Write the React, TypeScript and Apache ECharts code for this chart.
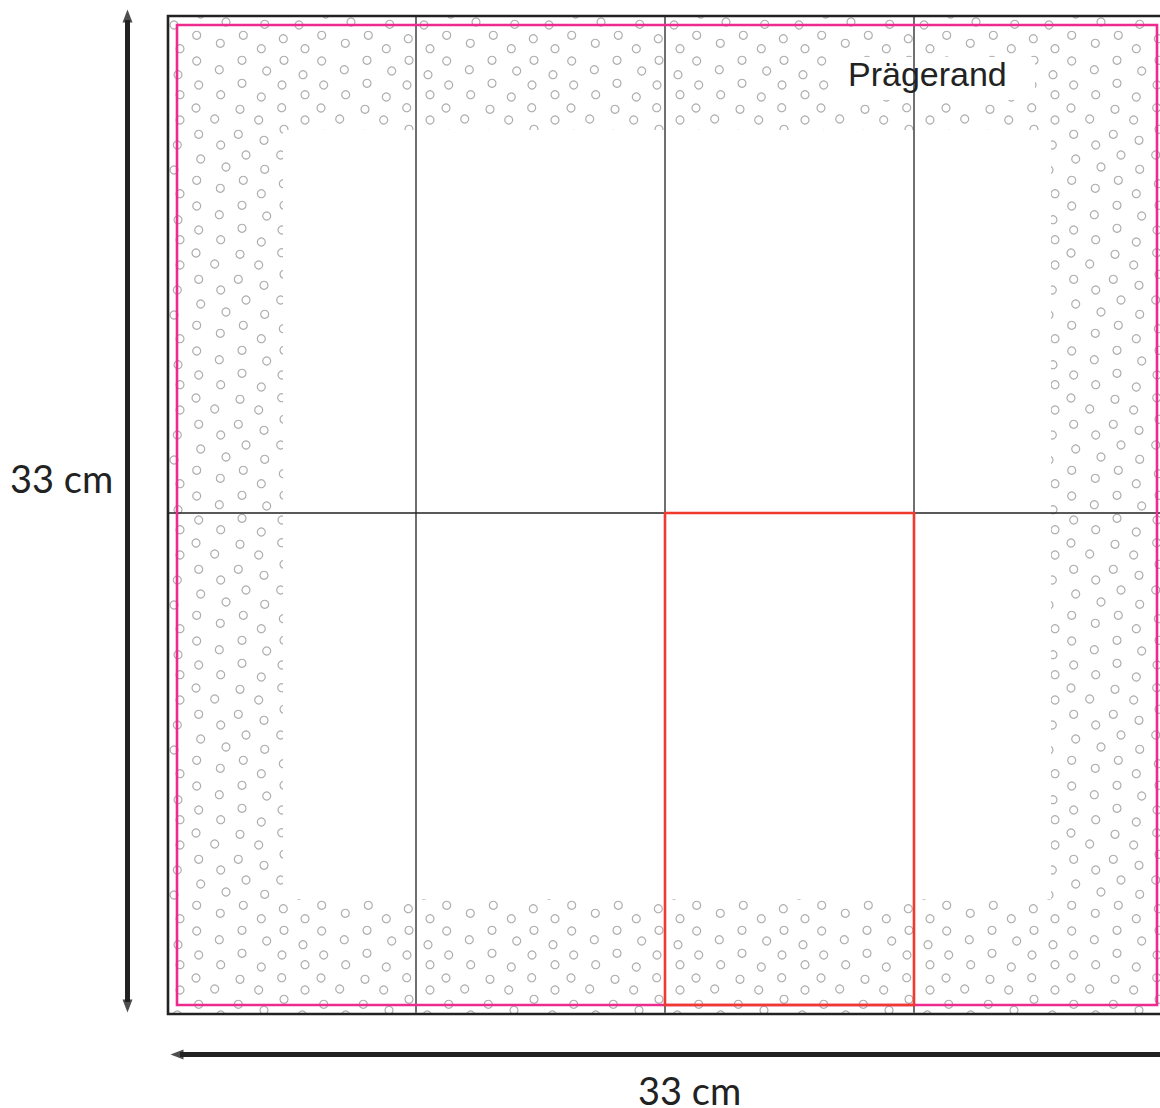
import React, { useEffect, useRef } from "react";
import * as echarts from "echarts";

// One repeat of the embossing dot pattern (frame units: frame = 998 wide, 33 cm)
const tileX = [6, 58, 96.7, 32.7, 78, 112.7, 28.7, 75.3, 52.3, 115.3, 93.3, 12, 28.7, 74, 51.3, 116, 98.7, 10, 30.7, 74, 114, 12, 52.7, 93.3, 28, 72, 113.7, 12, 46.7, 90.7, 30.7, 70.3, 96, 9.3, 52.7, 116];
const tileY = [9, 6, 8.3, -2, -6, -6, 19.3, 19.3, 27.3, 22.7, 32.7, 32.7, 45, 44.3, 53.7, 44.3, 55, 58.7, 69, 67.3, 69, 78.7, 78.7, 81, 92, 93.3, 91.7, 104, 103, 104, 118.3, 118.3, 124.3, 129, 129, 113.3];
const tileColumns = [0, 125, 250, 375, 500, 625, 750, 875];
const tileRows = [0, 145, 290, 435, 580, 725, 870];

const frameSize = [0, 998];
const framePath = [[0, 0], [998, 0], [998, 998], [0, 998], [0, 0]];
const trimPath = [[9, 9], [989, 9], [989, 989], [9, 989], [9, 9]];
const pagePath = [[497, 497], [746, 497], [746, 989], [497, 989], [497, 497]];
const foldLines = [
  [[248, 0], [248, 996]],
  [[497, 0], [497, 996]],
  [[746, 0], [746, 996]],
  [[0, 497], [998, 497]],
];
const arrowStems = [
  [-40.5, 4, -40.5, 986],
  [12, 1038.5, 1100, 1038.5],
];
// Areas free of dots: outside of the frame, the inner window, and behind the label
const blankAreas = [
  [-20, -20, 1100, 0],
  [-20, -20, 0, 1020],
  [-20, 998, 1100, 1020],
  [115, 114, 883, 883],
  [664, 41, 867, 84],
];
const dimensionLabel = "33 cm";
const embossLabel = "Prägerand";

const DARK = "#222222";

function polyline(name: string, data: number[][], color: string, width: number, z: number) {
  return {
    name,
    type: "line",
    data,
    z,
    clip: false,
    symbol: "none",
    silent: true,
    lineStyle: { color, width, cap: "square", join: "miter" },
  };
}

export default function App() {
  const ref = useRef<HTMLDivElement>(null);

  useEffect(() => {
    const chart = echarts.init(ref.current!, undefined, { renderer: "svg" });
    const dots: number[][] = [];
    tileColumns.forEach((cx) =>
      tileRows.forEach((cy) =>
        tileX.forEach((x, i) => dots.push([x + cx, tileY[i] + cy]))
      )
    );
    chart.setOption({
      animation: false,
      backgroundColor: "#ffffff",
      grid: { left: 168, top: 16, width: 998, height: 998, containLabel: false, outerBoundsMode: "none" },
      xAxis: { type: "value", min: frameSize[0], max: frameSize[1], show: false },
      yAxis: { type: "value", min: frameSize[0], max: frameSize[1], inverse: true, show: false },
      series: [
        {
          name: "Dots",
          type: "scatter",
          data: dots,
          z: 1,
          clip: false,
          silent: true,
          symbol: "circle",
          symbolSize: 8,
          itemStyle: { color: "transparent", borderColor: "#999999", borderWidth: 1.2 },
        },
        {
          name: "Blank",
          type: "custom",
          data: blankAreas,
          z: 2,
          silent: true,
          clip: false,
          encode: { x: [0, 2], y: [1, 3] },
          renderItem: (_p: any, api: any) => {
            const a = api.coord([api.value(0), api.value(1)]);
            const b = api.coord([api.value(2), api.value(3)]);
            return {
              type: "rect",
              shape: { x: a[0], y: a[1], width: b[0] - a[0], height: b[1] - a[1] },
              style: { fill: "#ffffff" },
            };
          },
        },
        ...foldLines.map((l, i) => polyline("Fold " + i, l, DARK, 1.3, 3)),
        polyline("Frame", framePath, DARK, 2.6, 3),
        polyline("Trim", trimPath, "#EE2A8F", 2.6, 4),
        polyline("Page", pagePath, "#F03A2E", 2.6, 5),
        {
          name: "Arrow stems",
          type: "custom",
          data: arrowStems,
          z: 6,
          silent: true,
          clip: false,
          encode: { x: [0, 2], y: [1, 3] },
          renderItem: (_p: any, api: any) => {
            const a = api.coord([api.value(0), api.value(1)]);
            const b = api.coord([api.value(2), api.value(3)]);
            return {
              type: "line",
              shape: { x1: a[0], y1: a[1], x2: b[0], y2: b[1] },
              style: { stroke: DARK, lineWidth: 5, fill: "none" },
            };
          },
        },
        {
          name: "Arrow heads",
          type: "scatter",
          z: 7,
          clip: false,
          silent: true,
          symbol: "triangle",
          symbolSize: [10, 13],
          itemStyle: { color: DARK },
          data: [
            { value: [-40.5, 0], symbolRotate: 0 },
            { value: [-40.5, 990], symbolRotate: 180 },
            { value: [9, 1038.5], symbolRotate: 90 },
          ],
        },
      ],
      graphic: [
        {
          type: "text",
          z: 10,
          x: 10,
          y: 459,
          style: { text: dimensionLabel, font: "38px Lato", fill: DARK },
        },
        {
          type: "text",
          z: 10,
          x: 638,
          y: 1071,
          style: { text: dimensionLabel, font: "38px Lato", fill: DARK },
        },
        {
          type: "text",
          z: 10,
          x: 848,
          y: 57,
          style: { text: embossLabel, font: '34px "Liberation Sans"', fill: DARK },
        },
      ],
    });
    return () => chart.dispose();
  }, []);

  return (
    <div
      ref={ref}
      style={{ position: "fixed", left: 0, top: 0, width: 1160, height: 1108, overflow: "hidden" }}
    />
  );
}
